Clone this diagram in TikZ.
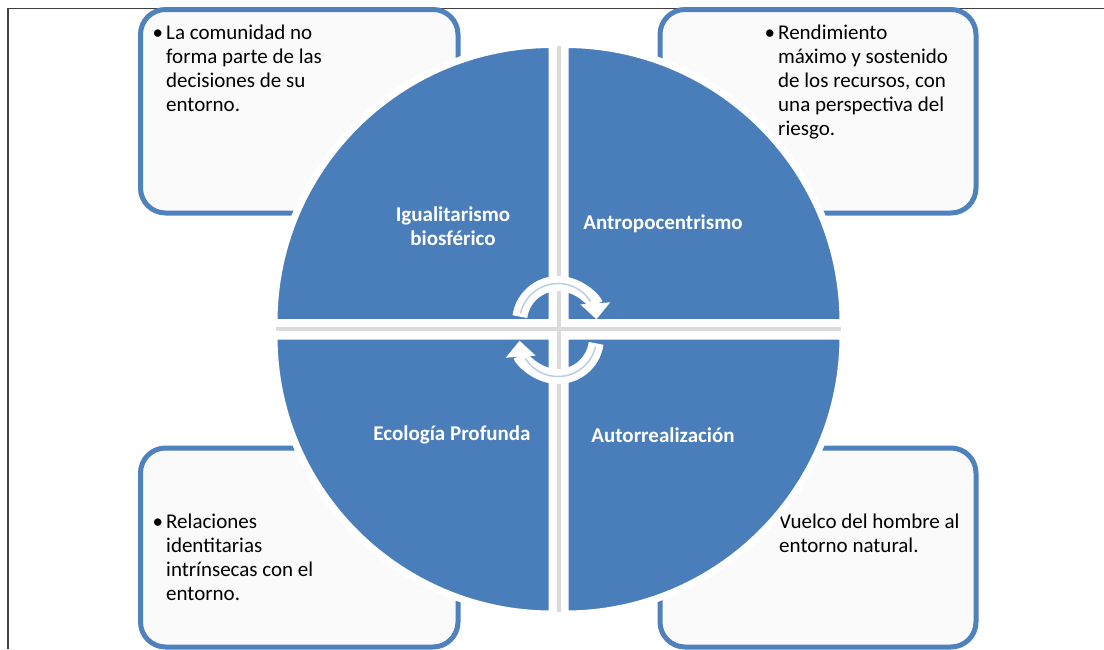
\documentclass[tikz,border=0pt]{standalone}
\usepackage{fontspec}
\setmainfont{Carlito}
\usetikzlibrary{positioning}
\usetikzlibrary{arrows.meta}
\usetikzlibrary{shadows}
\definecolor{quartblue}{HTML}{4A7EBB}
\definecolor{boxblue}{HTML}{4F81BD}
\definecolor{boxfill}{HTML}{FAFAFA}
\definecolor{framegray}{HTML}{404040}
\definecolor{arrowline}{HTML}{B9CDE5}
\tikzset{
    myframe/.style = {line width=1.5pt, draw=framegray},
    mybox/.style = {rounded corners=25pt, line width=5pt, draw=boxblue, fill=boxfill},
    myquart/.style = {fill=quartblue, draw=white, line width=7pt, line join=miter,
        drop shadow={shadow xshift=0.5pt, shadow yshift=-2pt, opacity=0.25}},
    gapshade/.style = {line width=4pt, black!14},
    mytext/.style = {anchor=north west, inner sep=0pt, align=left, font=\fontsize{21}{24}\selectfont, text=black},
    mylabel/.style = {inner sep=0pt, align=center, font=\fontsize{21}{24}\selectfont\bfseries, text=white},
    cyclearrow/.style = {line width=15pt, white, -{Triangle[length=16pt,width=29pt]}},
    cycleshade/.style = {line width=15pt, black, opacity=0.12, -{Triangle[length=16pt,width=29pt]}},
    cycleline/.style = {line width=1.5pt, arrowline},
}
\newcommand{\bul}{\llap{\textbullet\hspace{3pt}}}

\begin{document}
\begin{tikzpicture}[x=1pt,y=-1pt]
\useasboundingbox (0,0) rectangle (1104,649);
%
% frame
\coordinate (frtl) at (8,8.5);
\coordinate (frtr) at (1104,8.5);
\coordinate (frbl) at (8,649);
\draw[myframe] (frtr) -- (frtl) -- (frbl);
%
% boxes
\draw[mybox] (140.5,9.5) rectangle (458,213);
\draw[mybox] (660,9.5) rectangle (976,213);
\draw[mybox] (140.5,448) rectangle (458,647);
\draw[mybox] (660,448) rectangle (976,647);
%
\node[mytext] at (166,25) (txtcom) {\bul La comunidad no\\forma parte de las\\decisiones de su\\entorno.};
\node[mytext] at (778,25) (txtrend) {\bul Rendimiento\\máximo y sostenido\\de los recursos, con\\una perspectiva del\\riesgo.};
\node[mytext] at (166,514) (txtrel) {\bul Relaciones\\identitarias\\intrínsecas con el\\entorno.};
\node[mytext] at (779,514) (txtvue) {Vuelco del hombre al\\entorno natural.};
%
% quarters
\draw[gapshade] (558.5,46) -- (558.5,612);
\draw[gapshade] (276,329) -- (841,329);
\draw[myquart] (552,322.5) -- ++(-278,0) arc[start angle=180, end angle=270, radius=278] -- cycle;
\draw[myquart] (565,322.5) -- ++(0,-278) arc[start angle=270, end angle=360, radius=278] -- cycle;
\draw[myquart] (552,336) -- ++(0,278) arc[start angle=90, end angle=180, radius=278] -- cycle;
\draw[myquart] (565,336) -- ++(278,0) arc[start angle=0, end angle=90, radius=278] -- cycle;
%
\node[mylabel] at (453,226) (lbligual) {Igualitarismo\\biosférico};
\node[mylabel] at (663,224) (lblantro) {Antropocentrismo};
\node[mylabel] at (452,435) (lblecol) {Ecología Profunda};
\node[mylabel] at (663,435) (lblauto) {Autorrealización};
%
% cycle arrows
\coordinate (cyctop) at (558,322);
\coordinate (cycbot) at (558,338);
\draw[cycleshade, yshift=-3pt] (cyctop) ++(188:38.5) arc[start angle=188, end angle=356, radius=38.5];
\draw[cycleshade, yshift=-3pt] (cycbot) ++(8:38.5) arc[start angle=8, end angle=176, radius=38.5];
\draw[cyclearrow] (cyctop) ++(188:38.5) arc[start angle=188, end angle=356, radius=38.5];
\draw[cycleline] (cyctop) ++(193:38.5) arc[start angle=193, end angle=328, radius=38.5];
\draw[cyclearrow] (cycbot) ++(8:38.5) arc[start angle=8, end angle=176, radius=38.5];
\draw[cycleline] (cycbot) ++(13:38.5) arc[start angle=13, end angle=148, radius=38.5];
\end{tikzpicture}
\end{document}
